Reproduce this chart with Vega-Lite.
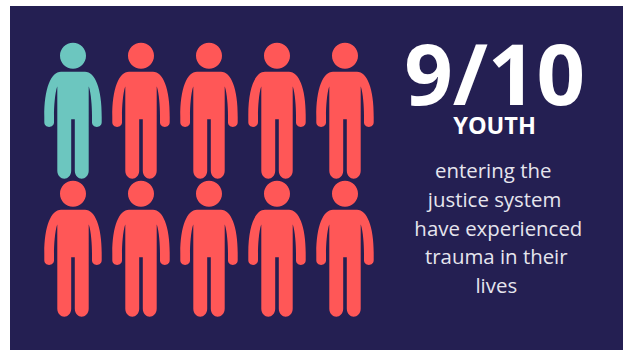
{
  "$schema": "https://vega.github.io/schema/vega-lite/v6.json",
  "width": 613,
  "height": 344,
  "autosize": "none",
  "padding": {"left": 10, "top": 6, "right": 3, "bottom": 2},
  "background": "#ffffff",
  "view": {"fill": "#241f52", "stroke": null},
  "datasets": {
    "caption": [
      {"col": 7.2, "line": -1.56, "label": "9/10", "style": "headline"},
      {"col": 7.2, "line": -0.56, "label": "YOUTH", "style": "subhead"},
      {"col": 7.18, "line": 1, "label": "entering the", "style": "body"},
      {"col": 7.2, "line": 2, "label": "justice system", "style": "body"},
      {"col": 7.255, "line": 3, "label": "have experienced", "style": "body"},
      {"col": 7.225, "line": 4, "label": "trauma in their", "style": "body"},
      {"col": 7.225, "line": 5, "label": "lives", "style": "body"}
    ]
  },
  "resolve": {"scale": {"y": "independent", "color": "independent"}},
  "layer": [
    {
      "data": {
        "values": [
          {"col": 1, "row": 1, "youth": 1, "affected": false},
          {"col": 2, "row": 1, "youth": 2, "affected": true},
          {"col": 3, "row": 1, "youth": 3, "affected": true},
          {"col": 4, "row": 1, "youth": 4, "affected": true},
          {"col": 5, "row": 1, "youth": 5, "affected": true},
          {"col": 1, "row": 2, "youth": 6, "affected": true},
          {"col": 2, "row": 2, "youth": 7, "affected": true},
          {"col": 3, "row": 2, "youth": 8, "affected": true},
          {"col": 4, "row": 2, "youth": 9, "affected": true},
          {"col": 5, "row": 2, "youth": 10, "affected": true}
        ]
      },
      "mark": {
        "type": "point",
        "filled": true,
        "opacity": 1,
        "size": 4,
        "shape": "M0,-68C7.2,-68 13,-62.2 13,-55C13,-47.8 7.2,-42 0,-42C-7.2,-42 -13,-47.8 -13,-55C-13,-62.2 -7.2,-68 0,-68ZM-12,-39L12,-39C22,-39 29,-22 28.7,6L28.7,11.5C28.7,14.2 26.5,16.2 23.9,16.2C21.2,16.2 19,14.2 19,11.5L19,5C19,-5 18,-17 15.9,-24L15.7,-24L15.7,60C15.7,64.8 12,68 8.7,68C5.4,68 1.8,64.8 1.8,60L1.8,8.5L-1.8,8.5L-1.8,60C-1.8,64.8 -5.4,68 -8.7,68C-12,68 -15.7,64.8 -15.7,60L-15.7,-24L-15.9,-24C-18,-17 -19,-5 -19,5L-19,11.5C-19,14.2 -21.2,16.2 -23.9,16.2C-26.5,16.2 -28.7,14.2 -28.7,11.5L-28.7,6C-29,-22 -22,-39 -12,-39Z"
      },
      "encoding": {
        "x": {"field": "col", "type": "quantitative", "axis": null, "scale": {"domain": [1, 5], "range": [63, 335]}},
        "y": {"field": "row", "type": "quantitative", "axis": null, "scale": {"domain": [1, 2], "range": [104.8, 242.8]}},
        "color": {
          "field": "affected",
          "type": "nominal",
          "legend": null,
          "scale": {"domain": [false, true], "range": ["#6cc6bf", "#ff5757"]}
        }
      }
    },
    {
      "layer": [
        {
          "transform": [{"filter": "datum.style === 'headline'"}],
          "mark": {"type": "text", "font": "Open Sans", "fontWeight": "bold", "fontSize": 85, "color": "#ffffff", "baseline": "alphabetic"}
        },
        {
          "transform": [{"filter": "datum.style === 'subhead'"}],
          "mark": {"type": "text", "font": "Open Sans", "fontWeight": "bold", "fontSize": 23.5, "color": "#ffffff", "baseline": "alphabetic"}
        },
        {
          "transform": [{"filter": "datum.style === 'body'"}],
          "mark": {"type": "text", "font": "Open Sans", "fontWeight": "normal", "fontSize": 20.4, "color": "#e6e5ee", "baseline": "alphabetic"}
        }
      ],
      "data": {"name": "caption"},
      "encoding": {
        "x": {"field": "col", "type": "quantitative", "axis": null, "scale": {"domain": [1, 5], "range": [63, 335]}},
        "y": {"field": "line", "type": "quantitative", "axis": null, "scale": {"domain": [1, 5], "range": [172.3, 286.7]}},
        "text": {"field": "label"}
      }
    }
  ]
}
